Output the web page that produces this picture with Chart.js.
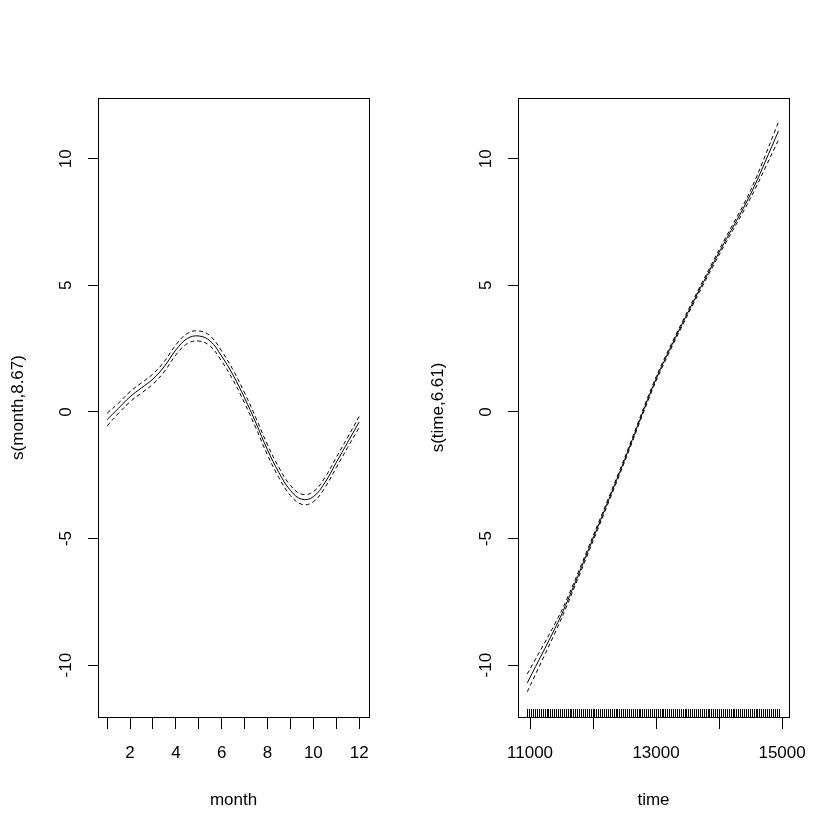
<!DOCTYPE html>
<html>
<head>
<meta charset="utf-8">
<script src="https://cdn.jsdelivr.net/npm/chart.js@4"></script>
<style>
  body { margin: 0; background: #fff; }
  #wrap { position: relative; width: 840px; height: 840px; }
  canvas { position: absolute; top: 0; }
</style>
</head>
<body>
<div id="wrap">
  <canvas id="c1" width="420" height="840" style="left:0"></canvas>
  <canvas id="c2" width="420" height="840" style="left:420px"></canvas>
</div>
<script>
// left panel: s(month,8.67)
const monthX = [1, 1.5, 2, 2.5, 3, 3.5, 4, 4.5, 5, 5.5, 6, 6.5, 7, 7.5, 8, 8.5, 9, 9.5, 10, 10.5, 11, 11.5, 12];
const monthFit = [-0.3, 0.15, 0.6, 0.95, 1.3, 1.8, 2.45, 2.9, 3.0, 2.8, 2.2, 1.45, 0.55, -0.45, -1.5, -2.4, -3.1, -3.45, -3.35, -2.8, -2.0, -1.2, -0.4];
const monthSe = [0.25, 0.2, 0.2, 0.2, 0.2, 0.2, 0.2, 0.2, 0.2, 0.2, 0.2, 0.2, 0.2, 0.2, 0.2, 0.2, 0.2, 0.2, 0.2, 0.2, 0.2, 0.2, 0.22];
const monthTicks = [1, 2, 3, 4, 5, 6, 7, 8, 9, 10, 11, 12];
const monthLabels = ['', '2', '', '4', '', '6', '', '8', '', '10', '', '12'];

// right panel: s(time,6.61)
const timeX = [10957, 11500, 12000, 12500, 13000, 13500, 14000, 14500, 14944];
const timeFit = [-10.7, -8.0, -5.0, -1.9, 1.3, 3.9, 6.3, 8.6, 11.1];
const timeSe = [0.35, 0.15, 0.1, 0.08, 0.08, 0.08, 0.1, 0.15, 0.35];
const timeTicks = [11000, 12000, 13000, 14000, 15000];
const timeLabels = ['11000', '', '13000', '', '15000'];
const timeRug = [
  10957,10988,11017,11048,11078,11109,11139,11170,11201,11231,11262,11292,
  11323,11354,11382,11413,11443,11474,11504,11535,11566,11596,11627,11657,
  11688,11719,11747,11778,11808,11839,11869,11900,11931,11961,11992,12022,
  12053,12084,12112,12143,12173,12204,12234,12265,12296,12326,12357,12387,
  12418,12449,12478,12509,12539,12570,12600,12631,12662,12692,12723,12753,
  12784,12815,12843,12874,12904,12935,12965,12996,13027,13057,13088,13118,
  13149,13180,13208,13239,13269,13300,13330,13361,13392,13422,13453,13483,
  13514,13545,13573,13604,13634,13665,13695,13726,13757,13787,13818,13848,
  13879,13910,13939,13970,14000,14031,14061,14092,14123,14153,14184,14214,
  14245,14276,14304,14335,14365,14396,14426,14457,14488,14518,14549,14579,
  14610,14641,14669,14700,14730,14761,14791,14822,14853,14883,14914,14944
];

const yTicks = [-10, -5, 0, 5, 10];
const FONT = "'Liberation Sans', Arial, sans-serif";
const FSIZE = 17;

const boxPlugin = {
  id: 'box',
  afterDraw(chart, args, opts) {
    const a = chart.chartArea, ctx = chart.ctx, ys = chart.scales.y;
    ctx.save();
    ctx.strokeStyle = '#000';
    ctx.lineWidth = 1;
    ctx.strokeRect(Math.round(a.left) + 0.5, Math.round(a.top) + 0.5, Math.round(a.right - a.left), Math.round(a.bottom - a.top));
    // y tick labels, rotated like R
    ctx.fillStyle = '#000';
    ctx.font = FSIZE + 'px ' + FONT;
    ctx.textAlign = 'center';
    ctx.textBaseline = 'middle';
    yTicks.forEach(v => {
      const py = ys.getPixelForValue(v);
      ctx.save();
      ctx.translate(66, py);
      ctx.rotate(-Math.PI / 2);
      ctx.fillText(String(v), 0, 0);
      ctx.restore();
    });
    ctx.save();
    ctx.translate(18, (a.top + a.bottom) / 2);
    ctx.rotate(-Math.PI / 2);
    ctx.fillText(opts.ytitle, 0, 0);
    ctx.restore();
    // rug
    if (opts.rug) {
      const xs = chart.scales.x;
      ctx.beginPath();
      opts.rug.forEach(v => {
        const px = Math.round(xs.getPixelForValue(v)) + 0.5;
        ctx.moveTo(px, a.bottom);
        ctx.lineTo(px, a.bottom - 8);
      });
      ctx.stroke();
    }
    ctx.restore();
  }
};

function makeChart(id, xs, fit, se, ticks, labels, xmin, xmax, xtitle, ytitle, rug, tension) {
  const pts = (k) => xs.map((x, i) => ({x: x, y: fit[i] + k * se[i]}));
  const line = (k, dash) => ({
    data: pts(k), borderColor: '#000', borderWidth: 1, borderDash: dash,
    pointRadius: 0, tension: tension, fill: false
  });
  return new Chart(document.getElementById(id), {
    type: 'line',
    data: { datasets: [line(0, []), line(1, [4, 3]), line(-1, [4, 3])] },
    options: {
      responsive: false,
      animation: false,
      layout: { padding: { top: 98, right: 51, left: 0, bottom: 25 } },
      plugins: { legend: { display: false }, tooltip: { enabled: false }, box: { ytitle: ytitle, rug: rug } },
      scales: {
        x: {
          type: 'linear', min: xmin, max: xmax,
          afterBuildTicks: (ax) => { ax.ticks = ticks.map(v => ({value: v})); },
          afterFit: (ax) => { ax.height = 98; },
          grid: { drawOnChartArea: false, tickLength: 12, color: '#000' },
          border: { display: false },
          ticks: {
            autoSkip: false, maxRotation: 0, padding: 14, color: '#000',
            font: { family: FONT, size: FSIZE },
            callback: (v, i) => labels[i]
          },
          title: { display: true, text: xtitle, color: '#000', font: { family: FONT, size: FSIZE }, padding: { top: 0 } }
        },
        y: {
          min: -12.05, max: 12.4,
          afterBuildTicks: (ax) => { ax.ticks = yTicks.map(v => ({value: v})); },
          afterFit: (ax) => { ax.width = 98; },
          grid: { drawOnChartArea: false, tickLength: 10, color: '#000' },
          border: { display: false },
          ticks: { display: false }
        }
      }
    },
    plugins: [boxPlugin]
  });
}

makeChart('c1', monthX, monthFit, monthSe, monthTicks, monthLabels, 0.6, 12.43, 'month', 's(month,8.67)', null, 0.4);
makeChart('c2', timeX, timeFit, timeSe, timeTicks, timeLabels, 10809, 15110, 'time', 's(time,6.61)', timeRug, 0.3);
</script>
</body>
</html>
